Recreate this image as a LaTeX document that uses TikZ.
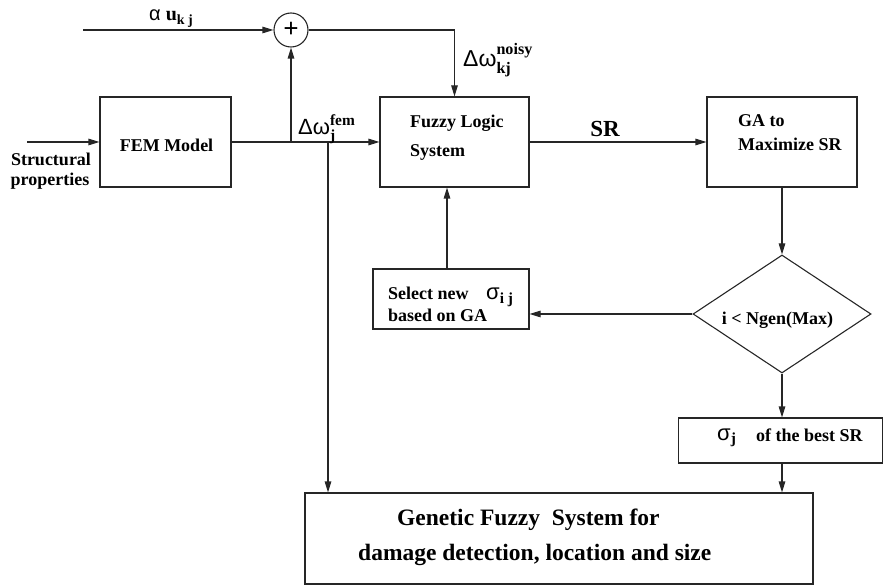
\documentclass[tikz,border=0pt]{standalone}
\usepackage{fontspec}
\setmainfont{Liberation Serif}
\newfontfamily\grk{Liberation Sans}
\usepackage{amsmath}
\usetikzlibrary{arrows.meta,shapes.geometric}
\begin{document}
\begin{tikzpicture}[x=1pt,y=-1pt,
  box/.style={draw=black!85,line width=1.1pt,rectangle,inner sep=0pt},
  conn/.style={draw=black!85,line width=1.1pt},
  arr/.style={conn,-{Triangle[length=11pt,width=6.5pt]}},
  txt/.style={font=\fontsize{18}{20}\selectfont\bfseries,inner sep=0pt},
  big/.style={font=\fontsize{23.5}{26}\selectfont\bfseries,inner sep=0pt},
  gr/.style={font=\fontsize{22}{24}\selectfont,inner sep=0pt},
]
\useasboundingbox (0,0) rectangle (884,585);

% boxes
\node[box,minimum width=131pt,minimum height=90pt] (fem) at (165.5,142) {};
\node[box,minimum width=149pt,minimum height=90pt] (fuzzy) at (454.5,142) {};
\node[box,minimum width=150pt,minimum height=90pt] (ga) at (782,142) {};
\node[box,minimum width=156pt,minimum height=60pt] (sel) at (451,299) {};
\node[draw=black!85,line width=1.1pt,diamond,inner sep=0pt,minimum width=178pt,minimum height=118pt] (dec) at (782,314) {};
\node[box,minimum width=204pt,minimum height=45pt] (sbest) at (780.5,440.5) {};
\node[box,minimum width=508pt,minimum height=91pt] (gfs) at (559,538.5) {};
\node[draw=black!85,line width=1.1pt,circle,minimum size=34pt,inner sep=0pt,font=\fontsize{27}{27}\selectfont\bfseries] (sum) at (291,30) {+};

% connectors
\coordinate (inA) at (83,30);
\coordinate (inS) at (27,142);
\coordinate (j1) at (291,142);
\coordinate (j2) at (328,142);
\draw[arr] (inA) -- (sum.west);
\draw[arr] (inS) -- (fem.west);
\draw[arr] (fem.east) -- (fuzzy.west);
\draw[arr] (j1) -- (sum.south);
\draw[arr] (sum.east) -| (fuzzy.north);
\draw[arr] (j2) -- (j2 |- gfs.north);
\draw[arr] (fuzzy.east) -- (ga.west);
\draw[arr] (ga.south) -- (dec.north);
\draw[arr] (dec.west) -- (dec.west -| sel.east);
\draw[arr] ([xshift=-4pt]sel.north) -- ([xshift=-4pt]sel.north |- fuzzy.south);
\draw[arr] (dec.south) -- (dec.south |- sbest.north);
\draw[arr] (sbest.south -| dec.south) -- (dec.south |- gfs.north);

% texts
\node[anchor=base west,inner sep=0pt,font=\fontsize{20}{22}\selectfont] (lalpha) at (149,21)
  {{\grk α} \textbf{u}$_{\text{\bfseries k j}}$};
\node[gr,anchor=base west,font=\fontsize{23}{24}\selectfont] (lnoisy) at (463,67)
  {$\text{\grk Δω}^{\text{\bfseries noisy}}_{\text{\bfseries kj}}$};
\node[gr,anchor=base west] (lfem) at (298,135)
  {$\text{\grk Δω}^{\text{\bfseries fem}}_{\text{\bfseries j}}$};
\node[txt,anchor=base] (tfem) at (166.5,152) {FEM Model};
\node[txt,anchor=base] (tstr1) at (51,166) {Structural};
\node[txt,anchor=base] (tstr2) at (50,186) {properties};
\node[txt,anchor=base west] (tfz1) at (410,128) {Fuzzy Logic};
\node[txt,anchor=base west] (tfz2) at (410,157) {System};
\node[anchor=base,inner sep=0pt,font=\fontsize{23}{25}\selectfont\bfseries] (tsr) at (605,137) {SR};
\node[txt,anchor=base west] (tga1) at (738,127) {GA to};
\node[txt,anchor=base west] (tga2) at (738,151) {Maximize SR};
\node[txt,anchor=base west] (tsel1) at (388,300) {Select new};
\node[txt,anchor=base west] (tsel2) at (388,322) {based on GA};
\node[gr,anchor=base west,font=\fontsize{22}{22}\selectfont] (tsig) at (486,300)
  {$\text{\grk σ}_{\text{\bfseries i j}}$};
\node[txt,anchor=base] (tdec) at (777.5,325) {i < Ngen(Max)};
\node[gr,anchor=base west,font=\fontsize{22}{22}\selectfont] (tsigj) at (717,440)
  {$\text{\grk σ}_{\text{\bfseries j}}$};
\node[txt,anchor=base west] (tbest) at (756,441) {of the best SR};
\node[big,anchor=base west] (tg1) at (397,525) {Genetic Fuzzy\ \ System for};
\node[big,anchor=base west] (tg2) at (358,560) {damage detection, location and size};
\end{tikzpicture}
\end{document}
